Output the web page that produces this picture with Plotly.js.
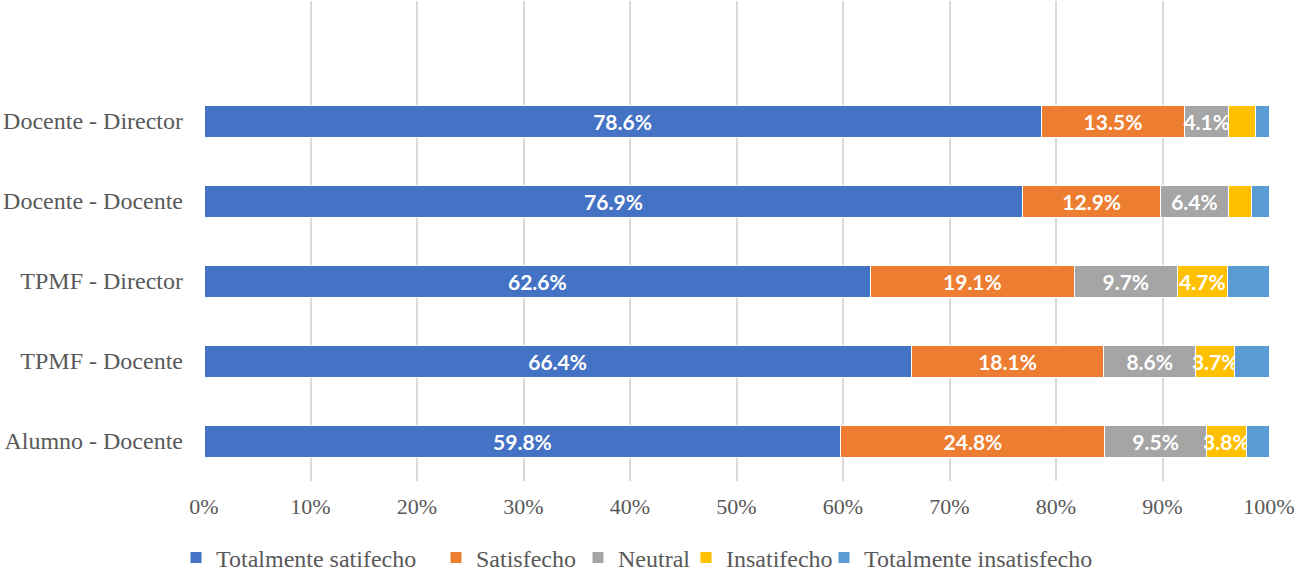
<!DOCTYPE html>
<html>
<head>
<meta charset="utf-8">
<script src="https://cdn.plot.ly/plotly-3.0.1.min.js"></script>
<style>html,body{margin:0;padding:0;background:#fff;}#chart{width:1295px;height:574px;}</style>
</head>
<body>
<div id="chart"></div>
<script>
const categories = ["Alumno - Docente", "TPMF - Docente", "TPMF - Director", "Docente - Docente", "Docente - Director"];
const seriesNames = ["Totalmente satifecho", "Satisfecho", "Neutral", "Insatifecho", "Totalmente insatisfecho"];
const totalmenteSatisfecho = [59.8, 66.4, 62.6, 76.9, 78.6];
const satisfecho = [24.8, 18.1, 19.1, 12.9, 13.5];
const neutral = [9.5, 8.6, 9.7, 6.4, 4.1];
const insatisfecho = [3.8, 3.7, 4.7, 2.2, 2.5];
const totalmenteInsatisfecho = [2.1, 3.2, 3.9, 1.6, 1.3];
const xTicks = [0,10,20,30,40,50,60,70,80,90,100];

const colors = ["#4472C4", "#ED7D31", "#A5A5A5", "#FFC000", "#5B9BD5"];
const allSeries = [totalmenteSatisfecho, satisfecho, neutral, insatisfecho, totalmenteInsatisfecho];
const showLabel = [true, true, true, true, false];
const legendIds = ['legend', 'legend2', 'legend3', 'legend4', 'legend5'];
const legendLeft = [176, 436, 578, 686, 824];

const traces = allSeries.map((vals, i) => ({
  type: 'bar',
  orientation: 'h',
  name: seriesNames[i],
  legend: legendIds[i],
  y: categories,
  x: vals,
  width: 0.4,
  marker: {color: colors[i], line: {color: '#ffffff', width: 1}},
  text: vals.map(v => (showLabel[i] && v >= 3) ? v.toFixed(1) + '%' : ''),
  textposition: 'inside',
  insidetextanchor: 'middle',
  textangle: 0,
  constraintext: 'none',
  cliponaxis: false,
  textfont: {family: 'Lato, "Open Sans", sans-serif', size: 21, color: '#ffffff', weight: 'bold'},
  hoverinfo: 'x+name'
}));

const layout = {
  barmode: 'stack',
  width: 1295,
  height: 574,
  margin: {l: 204, r: 26, t: 1, b: 93},
  paper_bgcolor: '#ffffff',
  plot_bgcolor: '#ffffff',
  font: {family: '"Liberation Serif", "Times New Roman", serif', size: 24, color: '#595959'},
  xaxis: {
    range: [0, 100],
    tickvals: xTicks,
    ticktext: xTicks.map(v => v + '%'),
    showgrid: true,
    gridcolor: '#d9d9d9',
    gridwidth: 2,
    zeroline: false,
    showline: false,
    ticks: '',
    ticklabelstandoff: 10,
    ticklabeloverflow: 'allow',
    tickfont: {size: 22, color: '#595959'},
    fixedrange: true
  },
  yaxis: {
    type: 'category',
    range: [-0.5, 5.5],
    showgrid: false,
    zeroline: false,
    showline: false,
    ticks: '',
    ticklabelstandoff: 20,
    tickfont: {size: 24, color: '#595959'},
    fixedrange: true
  },
  showlegend: true,
  bargap: 0.6
};

legendIds.forEach((id, i) => {
  layout[id] = {
    orientation: 'h',
    xref: 'container',
    yref: 'container',
    x: legendLeft[i] / 1295,
    xanchor: 'left',
    y: 0.028,
    yanchor: 'middle',
    font: {size: 24, color: '#595959'},
    itemwidth: 30,
    bgcolor: 'rgba(0,0,0,0)'
  };
});

Plotly.newPlot('chart', traces, layout, {displayModeBar: false, staticPlot: true});
</script>
</body>
</html>
